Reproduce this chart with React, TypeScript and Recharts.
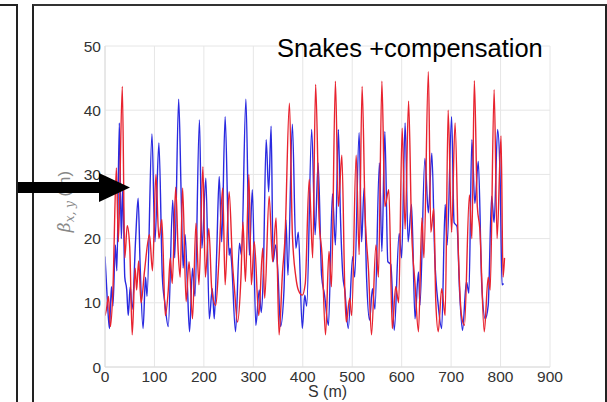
import { LineChart, Line, XAxis, YAxis, CartesianGrid } from 'recharts'

// beta functions along the ring, [s (m), beta (m)] at the turning points
const betaX: [number, number][] = [
  [0, 17.2], [5, 10], [9, 6], [13, 12.5], [16, 9.5], [21, 19], [24, 15], [29, 38], [33, 20], [36, 28],
  [40, 14], [44, 12], [47, 8], [51, 12.5], [55, 9], [62, 20], [67, 26.3], [71, 16], [77, 6], [82, 14],
  [85, 11], [95, 36.3], [101, 19.5], [109, 34.9], [116, 14], [121, 10], [128, 6.3], [137, 26], [141, 17], [149, 41.7],
  [154, 27], [158, 15.4], [162, 20.6], [166, 14], [171, 5.5], [177, 15.4], [182, 11], [191, 38.5], [196, 18.5], [204, 29.4],
  [211, 7.5], [217, 12.2], [221, 7.5], [226, 18], [231, 29.7], [236, 19.5], [243, 39], [251, 17.4], [253, 18.5], [256, 16.4],
  [264, 5.5], [272, 19.3], [276, 17.4], [285, 41.7], [292, 17.4], [298, 27.6], [305, 6.5], [312, 12], [316, 8.5], [320, 14],
  [326, 35.4], [331, 27.3], [336, 37.5], [340, 16.4], [345, 19], [350, 14.3], [355, 6.3], [362, 12], [366, 22.9], [370, 14.3],
  [379, 37.8], [386, 18.5], [391, 21], [399, 6], [404, 11.2], [408, 9.5], [418, 37], [425, 20.6], [431, 31.8], [438, 14.3],
  [444, 11.2], [452, 6.5], [460, 27], [466, 19], [472, 37], [476, 24], [481, 14.3], [485, 12], [492, 6], [501, 17.2],
  [505, 14], [514, 36.5], [519, 19.5], [524, 27.9], [529, 14], [535, 7.3], [541, 12.2], [546, 9], [555, 31.8], [560, 18],
  [566, 36.7], [572, 16.4], [578, 16], [585, 5.7], [595, 20.8], [600, 17], [607, 38], [613, 19.5], [620, 25.3], [627, 7.5],
  [634, 14.8], [637, 9.6], [647, 32.5], [654, 24], [661, 33.3], [667, 17], [674, 9.6], [681, 6], [688, 25.3], [692, 19],
  [701, 39], [706, 22.5], [712, 21.9], [717, 12], [723, 5.7], [731, 13.3], [736, 11.5], [742, 35.4], [748, 25.5], [755, 32],
  [762, 12.8], [769, 7.5], [775, 9.6], [782, 26.6], [787, 22.5], [794, 37], [799, 30], [803, 12.8], [806, 13],
]

const betaY: [number, number][] = [
  [0, 8], [3, 9], [7, 11], [11, 6.3], [16, 12], [23, 31], [27, 19.5], [35, 43.7], [40, 17], [45, 22],
  [50, 18.7], [55, 5], [61, 15.4], [64, 12], [68, 16.5], [73, 10], [80, 15], [90, 20.6], [96, 15], [103, 30],
  [109, 20], [115, 23], [122, 8], [128, 12], [132, 17], [136, 13], [143, 28], [148, 18], [152, 14], [157, 27.9],
  [164, 10.2], [170, 16.4], [177, 7.5], [184, 22.4], [190, 12.8], [198, 31.2], [203, 14], [210, 21.6], [216, 12], [224, 9.6],
  [230, 16], [238, 27.9], [243, 12.8], [251, 27.3], [258, 16], [262, 12], [268, 7], [275, 14], [279, 22.6], [284, 13.3],
  [291, 30], [296, 12.8], [302, 19.5], [311, 8], [319, 18.5], [323, 10.7], [332, 26.6], [339, 16.4], [346, 23.2], [352, 5],
  [359, 14.8], [364, 20], [373, 41.1], [379, 20.6], [386, 14], [391, 12], [399, 11.2], [405, 13], [413, 29.2], [420, 17],
  [426, 44], [433, 23], [439, 17.4], [446, 5], [453, 18], [458, 12.5], [466, 44.5], [472, 25], [479, 33], [485, 12],
  [488, 7], [495, 10.7], [499, 8], [508, 33], [514, 17.5], [520, 43.7], [526, 24], [533, 15], [539, 5], [548, 19],
  [553, 14], [560, 44.5], [566, 25], [574, 27.6], [581, 6], [588, 12.5], [594, 10], [601, 37.2], [607, 21.5], [614, 41.4],
  [620, 21.6], [627, 13], [634, 5.5], [641, 23.2], [645, 17], [654, 46], [659, 21], [665, 24.7], [669, 10.2], [674, 5.5],
  [681, 12.2], [688, 8], [694, 40], [701, 21], [708, 38], [715, 17], [721, 8], [727, 6.5], [737, 26.8], [742, 20],
  [747, 44.6], [753, 25], [758, 21.6], [767, 5.5], [775, 14], [779, 12], [787, 43.2], [793, 20], [801, 36], [805, 14],
  [808, 17],
]

const xTicks = [0, 100, 200, 300, 400, 500, 600, 700, 800, 900]
const yTicks = [0, 10, 20, 30, 40, 50]
const title = 'Snakes +compensation'

const font = '"Liberation Sans", Arial, sans-serif'
const toRows = (pts: [number, number][]) => pts.map(([s, beta]) => ({ s, beta }))

function BetaLabel({ viewBox }: any) {
  const cx = 70
  const cy = viewBox ? viewBox.y + viewBox.height / 2 - 5 : 202
  return (
    <text x={cx} y={cy} transform={`rotate(-90 ${cx} ${cy})`} textAnchor="middle" fill="#888" fontSize={17}>
      <tspan fontFamily='"DejaVu Serif", serif' fontStyle="italic">β</tspan>
      <tspan fontFamily='"DejaVu Serif", serif' fontStyle="italic" fontSize={12} dy={4}>x, y</tspan>
      <tspan fontFamily={font} dy={-4}> (m)</tspan>
    </text>
  )
}

function SLabel({ viewBox }: any) {
  const cx = viewBox ? viewBox.x + viewBox.width / 2 : 327
  return (
    <text x={cx} y={397} textAnchor="middle" fill="#333" fontSize={16} fontFamily={font}>
      S (m)
    </text>
  )
}

export default function App() {
  return (
    <div style={{ position: 'absolute', left: 0, top: 0, width: 607, height: 402, background: '#fff', overflow: 'hidden' }}>
      {/* frame lines of the slide panels */}
      <div style={{ position: 'absolute', left: 0, top: 4, width: 16, height: 400, borderTop: '2px solid #222', borderRight: '2px solid #222' }} />
      <div style={{ position: 'absolute', left: 32, top: 4, width: 571, height: 400, borderTop: '2px solid #333', borderLeft: '2px solid #222', borderRight: '2px solid #222' }} />
      <LineChart
        width={607}
        height={402}
        margin={{ top: 46, right: 57, left: 65, bottom: 5 }}
        style={{ position: 'absolute', left: 0, top: 0, fontFamily: font }}
      >
        <CartesianGrid stroke="#e6e6e6" strokeWidth={1} />
        <XAxis
          type="number"
          dataKey="s"
          domain={[0, 900]}
          ticks={xTicks}
          allowDataOverflow
          height={30}
          tickLine={false}
          axisLine={{ stroke: '#dcdcdc' }}
          tick={{ fill: '#333', fontSize: 15.5 }}
          tickMargin={-2}
          label={<SLabel />}
        />
        <YAxis
          type="number"
          domain={[0, 50]}
          ticks={yTicks}
          width={40}
          tickLine={false}
          axisLine={{ stroke: '#dcdcdc' }}
          tick={{ fill: '#333', fontSize: 15.5 }}
          tickMargin={-2}
          label={<BetaLabel />}
        />
        <Line data={toRows(betaX)} dataKey="beta" type="monotone" stroke="#2a2ae0" strokeWidth={1.4} dot={false} isAnimationActive={false} />
        <Line data={toRows(betaY)} dataKey="beta" type="monotone" stroke="#e8232f" strokeWidth={1.4} dot={false} isAnimationActive={false} />
        <text x={277} y={57} fill="#000" fontSize={25.5} fontFamily={font}>{title}</text>
      </LineChart>
      <svg width={607} height={402} style={{ position: 'absolute', left: 0, top: 0, pointerEvents: 'none' }}>
        <rect x={18} y={182} width={84} height={11} fill="#000" />
        <polygon points="99,173 130,187.5 99,202" fill="#000" />
      </svg>
    </div>
  )
}
